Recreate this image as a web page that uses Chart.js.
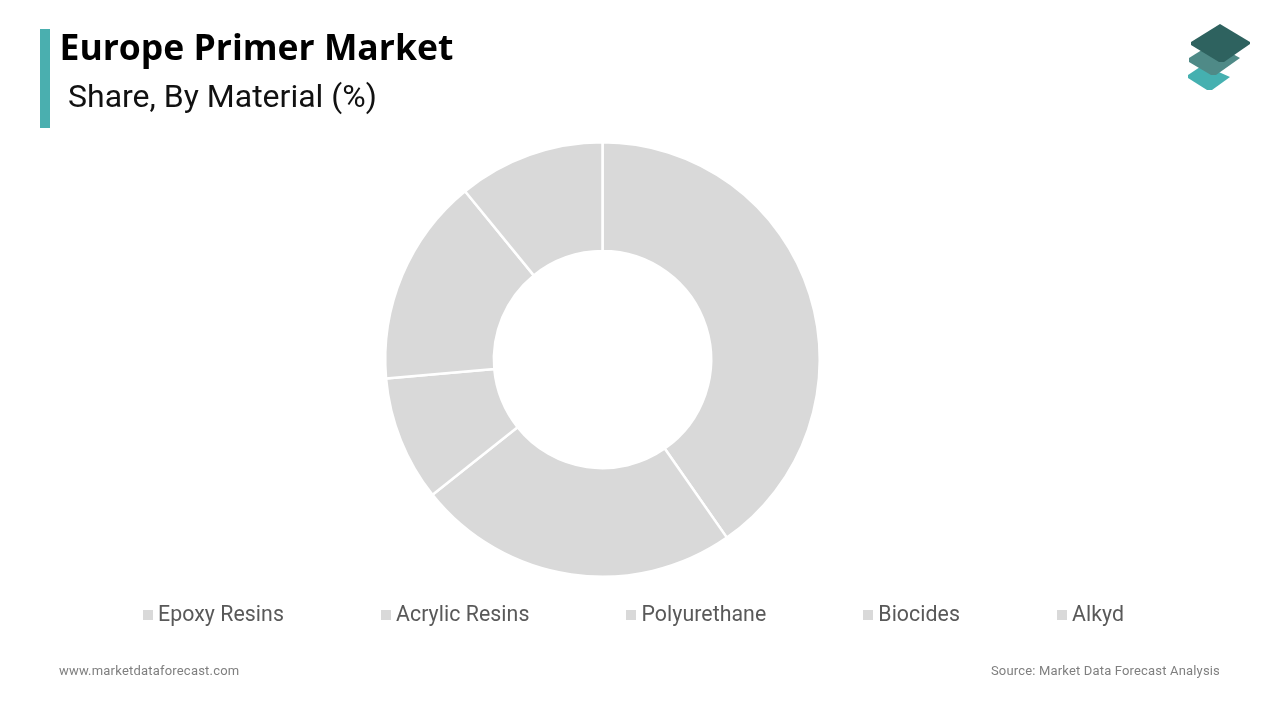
<!DOCTYPE html>
<html>
<head>
<meta charset="utf-8">
<style>
html,body{margin:0;padding:0;background:#fff;width:1280px;height:720px;overflow:hidden}
#wrap{position:absolute;left:0;top:0;width:1280px;height:720px}
canvas{position:absolute;left:0;top:0}
.t{position:absolute;white-space:nowrap;line-height:1}
#bar{position:absolute;left:40px;top:29px;width:10px;height:99px;background:#4aafaf}
#title{left:59.5px;top:26px;font:700 35.5px "Open Sans",sans-serif;color:#000;line-height:40px}
#sub{left:68px;top:77px;font:400 32px Roboto,sans-serif;color:#111}
#site{left:59px;top:663px;font:400 13px Roboto,sans-serif;color:#7f7f7f;letter-spacing:.2px}
#src{right:60px;top:663px;font:400 13px Roboto,sans-serif;color:#7f7f7f;letter-spacing:.17px}
#legend{position:absolute;left:143px;top:601px;display:flex;gap:97px;height:24px;align-items:center}
.li{display:flex;align-items:center;font:400 21.3px Roboto,sans-serif;color:#595959;white-space:nowrap;letter-spacing:.06px}
.sw{width:10px;height:10px;margin-right:5px;margin-top:4px;display:inline-block}
#logo{position:absolute;left:1170px;top:10px}
</style>
</head>
<body>
<div id="wrap">
<canvas id="c" width="1280" height="720"></canvas>
<div id="bar"></div>
<div class="t" id="title">Europe Primer Market</div>
<div class="t" id="sub">Share, By Material (%)</div>
<div id="legend"></div>
<div class="t" id="site">www.marketdataforecast.com</div>
<div class="t" id="src">Source: Market Data Forecast Analysis</div>
<svg id="logo" width="100" height="90" viewBox="1170 10 100 90">
<polygon points="1203,65 1230,77 1212,90 1207,90 1188,78 1188,75" fill="#45b0b0"/>
<polygon points="1213,43 1240,58 1216,75 1211,75 1189,62 1189,58" fill="#4f8a87"/>
<polygon points="1220,24 1250,42 1250,44 1224,62 1219,62 1191,45 1191,42" fill="#2e625f"/>
</svg>
</div>
<script src="https://cdn.jsdelivr.net/npm/chart.js@4"></script>
<script>
const categories = ["Epoxy Resins","Acrylic Resins","Polyurethane","Biocides","Alkyd"];
const shares = [40.3,24.0,9.3,15.5,10.9];
const sliceColors = ["#d9d9d9","#d9d9d9","#d9d9d9","#d9d9d9","#d9d9d9"];

const legend = document.getElementById('legend');
categories.forEach((name,i)=>{
  const li=document.createElement('div'); li.className='li';
  const sw=document.createElement('span'); sw.className='sw'; sw.style.background=sliceColors[i];
  li.appendChild(sw); li.appendChild(document.createTextNode(name));
  legend.appendChild(li);
});

new Chart(document.getElementById('c'),{
  type:'doughnut',
  data:{labels:categories,datasets:[{data:shares,backgroundColor:sliceColors,borderColor:'#ffffff',borderWidth:2.5,hoverOffset:0}]},
  options:{
    responsive:false,animation:false,cutout:'50%',
    layout:{padding:{left:384,right:459,top:141,bottom:142}},
    plugins:{legend:{display:false},title:{display:false},tooltip:{enabled:false}}
  }
});
</script>
</body>
</html>
